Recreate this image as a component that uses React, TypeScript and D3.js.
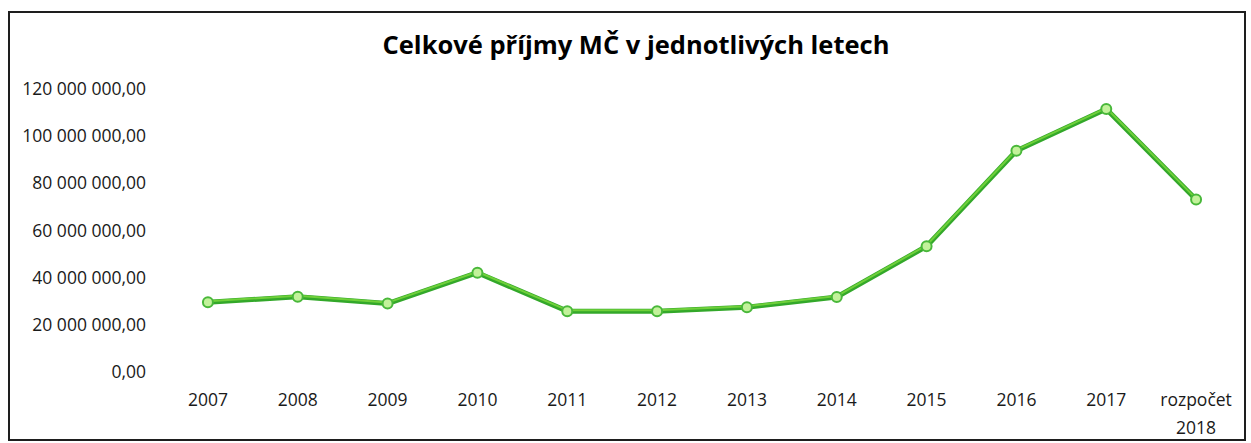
import React from "react";
import * as d3 from "d3";

const categories = ["2007", "2008", "2009", "2010", "2011", "2012", "2013", "2014", "2015", "2016", "2017", "rozpočet 2018"];
const values = [29.6e6, 31.9e6, 29.0e6, 42.1e6, 25.8e6, 25.8e6, 27.5e6, 31.8e6, 53.3e6, 93.8e6, 111.5e6, 73.1e6];
const yTicks = [0, 20e6, 40e6, 60e6, 80e6, 100e6, 120e6];
const title = "Celkové příjmy MČ v jednotlivých letech";

const W = 1251;
const H = 443;
const font = "'Open Sans', sans-serif";

function fmt(v: number): string {
  const s = Math.round(v).toString();
  const grouped = s.replace(/\B(?=(\d{3})+(?!\d))/g, " ");
  return grouped + ",00";
}

export default function App() {
  const x = d3.scaleBand<string>().domain(categories).range([163, 1241]);
  const y = d3.scaleLinear().domain([0, 120e6]).range([372, 89]);
  const cx = (c: string) => (x(c) ?? 0) + x.bandwidth() / 2;
  const pts: [number, number][] = categories.map((c, i) => [cx(c), y(values[i])]);
  const line = d3.line()(pts) ?? "";

  return (
    <svg width={W} height={H} style={{ position: "absolute", left: 0, top: 0, background: "#fff" }}>
      <rect x={9} y={12} width={1236} height={428} fill="#fff" stroke="#1e1e1e" strokeWidth={2} />
      <text x={636} y={54} textAnchor="middle" fontFamily={font} fontWeight={700} fontSize={25.5} fill="#000">
        {title}
      </text>
      {yTicks.map((t) => (
        <text key={t} x={146} y={y(t)} dy="0.35em" textAnchor="end" fontFamily={font} fontSize={17.5} fill="#1a1a1a">
          {fmt(t)}
        </text>
      ))}
      {categories.map((c) => {
        const parts = c.split(" ");
        return (
          <text key={c} x={cx(c)} y={406} textAnchor="middle" fontFamily={font} fontSize={17.5} fill="#1a1a1a">
            {parts.map((p, i) => (
              <tspan key={i} x={cx(c)} dy={i === 0 ? 0 : 28}>
                {p}
              </tspan>
            ))}
          </text>
        );
      })}
      <path d={line} fill="none" stroke="#33a82a" strokeWidth={5} strokeLinejoin="round" />
      <path d={line} fill="none" stroke="#6fd03a" strokeWidth={2} strokeLinejoin="round" transform="translate(0,-1)" />
      {pts.map((p, i) => (
        <circle key={i} cx={p[0]} cy={p[1]} r={5} fill="#c2f29a" stroke="#49b83a" strokeWidth={2} />
      ))}
    </svg>
  );
}
